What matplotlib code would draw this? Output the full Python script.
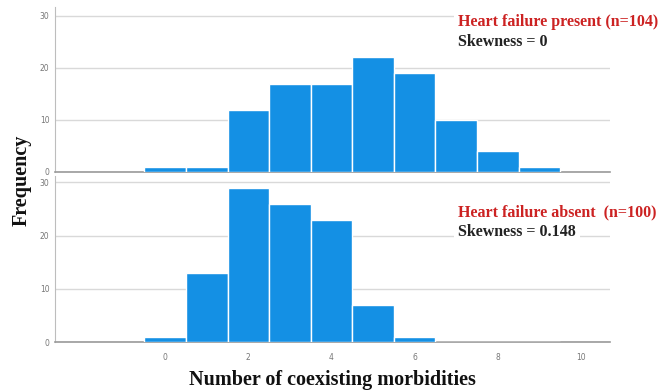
import matplotlib
matplotlib.use("Agg")
import matplotlib.pyplot as plt

categories = [0, 1, 2, 3, 4, 5, 6, 7, 8, 9]
present_counts = [1, 1, 12, 17, 17, 22, 19, 10, 4, 1]
absent_counts = [1, 13, 29, 26, 23, 7, 1, 0, 0, 0]
x_ticks = [0, 2, 4, 6, 8, 10]
y_ticks = [0, 10, 20, 30]
present_label = "Heart failure present (n=104)"
present_skew = "Skewness = 0"
absent_label = "Heart failure absent  (n=100)"
absent_skew = "Skewness = 0.148"

BAR = "#1490E4"
serif = ["Liberation Serif", "DejaVu Serif"]

fig = plt.figure(figsize=(6.62, 3.92), dpi=100)
W, H = 662, 392

def px_axes(l, t, r, b):
    return fig.add_axes([l / W, 1 - b / H, (r - l) / W, (b - t) / H])

ax_top = px_axes(55, 7, 610, 172)
ax_bot = px_axes(55, 176, 610, 342)

for ax, vals in ((ax_top, present_counts), (ax_bot, absent_counts)):
    ax.bar(categories, vals, width=1.0, color=BAR, edgecolor="white",
           linewidth=1.0, zorder=3)
    ax.set_xlim(-2.65, 10.7)
    ax.set_ylim(0, 31.7 if ax is ax_top else 31.2)
    ax.set_yticks(y_ticks)
    ax.set_xticks(x_ticks)
    ax.yaxis.grid(True, color="#d9d9d9", linewidth=1.0, zorder=0)
    ax.set_axisbelow(True)
    for s in ("top", "right"):
        ax.spines[s].set_visible(False)
    ax.spines["left"].set_color("#bdbdbd")
    ax.spines["bottom"].set_color("#9a9a9a")
    ax.spines["bottom"].set_linewidth(1.2)
    ax.tick_params(axis="both", length=0, labelsize=5.5, labelcolor="#777777",
                   pad=4)
    ax.patch.set_alpha(0)

ax_top.tick_params(axis="x", labelbottom=False)
ax_bot.tick_params(axis="x", pad=8)

box = dict(facecolor="white", edgecolor="none", pad=3)
fs = 11.5
fig.text(458 / W, 1 - 22 / H, present_label, color="#cc2222", fontsize=fs,
         fontweight="bold", family=serif, va="center", ha="left", bbox=box)
fig.text(458 / W, 1 - 42 / H, present_skew, color="#222222", fontsize=fs,
         fontweight="bold", family=serif, va="center", ha="left", bbox=box)
fig.text(458 / W, 1 - 212 / H, absent_label, color="#cc2222", fontsize=fs,
         fontweight="bold", family=serif, va="center", ha="left", bbox=box)
fig.text(458 / W, 1 - 232 / H, absent_skew, color="#222222", fontsize=fs,
         fontweight="bold", family=serif, va="center", ha="left", bbox=box)

fig.text(22 / W, 1 - 180 / H, "Frequency", rotation=90, fontsize=14.5,
         fontweight="bold", family=serif, va="center", ha="center",
         color="#111111")
fig.text(332 / W, 1 - 380 / H, "Number of coexisting morbidities",
         fontsize=14.5, fontweight="bold", family=serif, va="center",
         ha="center", color="#111111")

fig.savefig("out.png", dpi=100, facecolor="white")
